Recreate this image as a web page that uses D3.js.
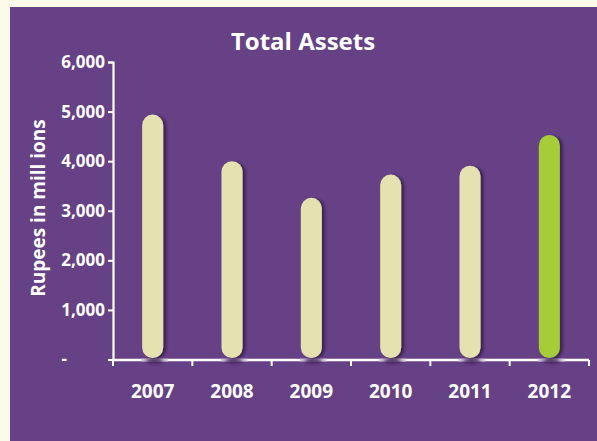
<!DOCTYPE html>
<html>
<head>
<meta charset="utf-8">
<script src="https://cdn.jsdelivr.net/npm/d3@7"></script>
<style>
  html, body { margin: 0; padding: 0; background: #fdfae9; }
  svg { display: block; }
  text { font-family: "Open Sans", "DejaVu Sans", sans-serif; font-weight: 700; fill: #ffffff; }
</style>
</head>
<body>
<svg id="chart" width="597" height="441"></svg>
<script>
// Total assets by year, rupees in millions
const years = ["2007", "2008", "2009", "2010", "2011", "2012"];
const assets = [4940, 4000, 3260, 3730, 3910, 4530];
const barColors = ["#e6e1b0", "#e6e1b0", "#e6e1b0", "#e6e1b0", "#e6e1b0", "#a6cc38"];
const yTicks = [0, 1000, 2000, 3000, 4000, 5000, 6000];

const W = 597, H = 441;
const svg = d3.select("#chart");

// page frame and panel
svg.append("rect").attr("width", W).attr("height", H).attr("fill", "#fdfae9");
svg.append("rect").attr("x", 10).attr("y", 7).attr("width", W - 10).attr("height", H - 7).attr("fill", "#674186");

const defs = svg.append("defs");
const shadow = defs.append("filter").attr("id", "barShadow")
  .attr("x", "-50%").attr("y", "-10%").attr("width", "200%").attr("height", "120%");
shadow.append("feDropShadow").attr("dx", 3).attr("dy", 1).attr("stdDeviation", 1.8)
  .attr("flood-color", "#2e1645").attr("flood-opacity", 0.8);
const soft = defs.append("filter").attr("id", "soft")
  .attr("x", "-50%").attr("y", "-100%").attr("width", "200%").attr("height", "300%");
soft.append("feGaussianBlur").attr("stdDeviation", 1.5);
const glint = defs.append("linearGradient").attr("id", "glint");
glint.append("stop").attr("offset", "0%").attr("stop-color", "#d9d0e2");
glint.append("stop").attr("offset", "45%").attr("stop-color", "#8d76a4");
glint.append("stop").attr("offset", "100%").attr("stop-color", "#e4dcea");

const x = d3.scaleBand().domain(years).range([113, 589]).padding(0);
const y = d3.scaleLinear().domain([0, 6000]).range([359.5, 62]);
const barW = x.bandwidth() * 0.265;

// title
svg.append("text").attr("x", 303).attr("y", 50).attr("text-anchor", "middle")
  .style("font-size", "24px").text("Total Assets");

// y-axis title
svg.append("text").attr("transform", "translate(45,208) rotate(-90)")
  .attr("text-anchor", "middle").style("font-size", "19px").text("Rupees in mill ions");

// y axis
const yAxis = svg.append("g").attr("transform", "translate(113,0)")
  .call(d3.axisLeft(y).tickValues(yTicks).tickSize(5).tickPadding(3)
    .tickFormat(d => d === 0 ? "-" : d3.format(",")(d)));
yAxis.select(".domain").attr("stroke", "#fff").attr("stroke-width", 2.2);
yAxis.selectAll(".tick line").attr("stroke", "#fff").attr("stroke-width", 2);
yAxis.selectAll(".tick text").style("font-size", "17px").attr("fill", "#fff")
  .attr("font-family", null).attr("font-size", null);
yAxis.selectAll(".tick").filter(d => d === 0).select("text").attr("x", -46);

// x axis: labels centred in bands, ticks on band edges
const xAxis = svg.append("g").attr("transform", "translate(0,360)")
  .call(d3.axisBottom(x).tickSize(0).tickPadding(25));
xAxis.select(".domain").remove();
xAxis.selectAll(".tick text").style("font-size", "19px").attr("fill", "#fff")
  .attr("font-family", null).attr("font-size", null);

const edges = years.map(d => x(d)).concat([x.range()[1]]);
svg.append("line").attr("x1", 113).attr("x2", 589).attr("y1", 360).attr("y2", 360)
  .attr("stroke", "#fff").attr("stroke-width", 2.6);
svg.selectAll(".edge").data(edges).join("line").attr("class", "edge")
  .attr("x1", d => d).attr("x2", d => d).attr("y1", 360).attr("y2", 366)
  .attr("stroke", "#fff").attr("stroke-width", 2);

// reflection on the axis and shadow beneath each bar
const cx = d => x(d) + x.bandwidth() / 2;
svg.selectAll(".glint").data(years).join("rect").attr("class", "glint")
  .attr("x", d => cx(d) - barW / 2 - 1).attr("y", 358.8)
  .attr("width", barW + 6).attr("height", 2.6).attr("fill", "url(#glint)");
svg.selectAll(".pool").data(years).join("ellipse").attr("class", "pool")
  .attr("cx", d => cx(d) + 2).attr("cy", 361.5).attr("rx", barW / 2 - 2).attr("ry", 2.5)
  .attr("fill", "#3a1f52").attr("opacity", 0.7).attr("filter", "url(#soft)");

// pill-shaped bars
svg.selectAll(".bar").data(years).join("rect").attr("class", "bar")
  .attr("x", d => cx(d) - barW / 2)
  .attr("y", (d, i) => y(assets[i]))
  .attr("width", barW)
  .attr("height", (d, i) => y(0) - 1.5 - y(assets[i]))
  .attr("rx", barW / 2).attr("ry", barW / 2)
  .attr("fill", (d, i) => barColors[i])
  .attr("filter", "url(#barShadow)");
</script>
</body>
</html>
